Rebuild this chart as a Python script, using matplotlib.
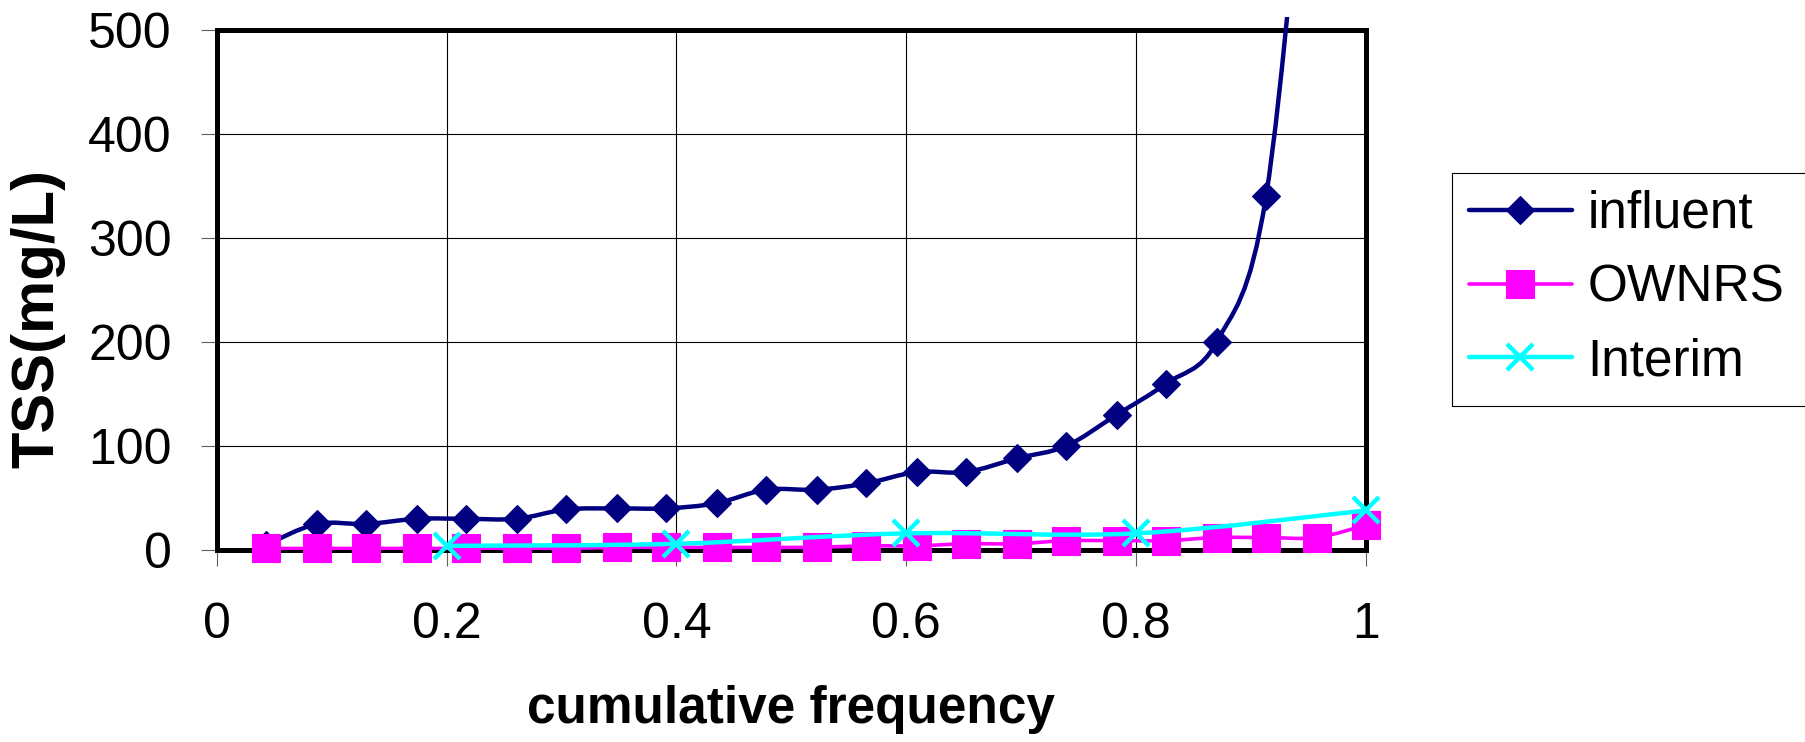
import numpy as np
import matplotlib
matplotlib.use('Agg')
import matplotlib.pyplot as plt
from matplotlib.path import Path
from matplotlib.patches import PathPatch, Rectangle
from matplotlib.lines import Line2D

plt.rcParams['font.family'] = ['Liberation Sans', 'DejaVu Sans']

# ---- data ----
cum_freq = [0.043, 0.087, 0.130, 0.174, 0.217, 0.261, 0.304, 0.348, 0.391, 0.435,
            0.478, 0.522, 0.565, 0.609, 0.652, 0.696, 0.739, 0.783, 0.826, 0.870,
            0.913, 0.957, 1.000]
influent = [5, 25, 25, 30, 30, 30, 39, 40, 40, 45,
            58, 58, 64, 75, 75, 88, 100, 130, 160, 200,
            340, 800, 1200]
ownrs = [1.5, 1.5, 1.5, 1.5, 1.5, 1.5, 1.5, 2.5, 2.5, 2.5,
         2.5, 2.6, 4, 4, 6, 6, 9, 9, 9, 12,
         12, 12, 24]
interim_freq = [0.2, 0.4, 0.6, 0.8, 1.0]
interim = [4, 6, 16, 16, 38]

x_ticks = [0, 0.2, 0.4, 0.6, 0.8, 1.0]
x_ticklabels = ['0', '0.2', '0.4', '0.6', '0.8', '1']
y_ticks = [0, 100, 200, 300, 400, 500]

W, H = 1805, 742
FS = 36


def smooth_path(xs, ys):
    # excel-style smoothed line: cubic bezier through every point
    pts = np.column_stack([xs, ys]).astype(float)
    n = len(pts)
    verts = [pts[0]]
    codes = [Path.MOVETO]
    for i in range(n - 1):
        p0 = pts[i - 1] if i > 0 else pts[i]
        p1 = pts[i]
        p2 = pts[i + 1]
        p3 = pts[i + 2] if i + 2 < n else pts[i + 1]
        verts += [p1 + (p2 - p0) / 6, p2 - (p3 - p1) / 6, p2]
        codes += [Path.CURVE4] * 3
    return Path(verts, codes)


fig = plt.figure(figsize=(W / 100, H / 100), dpi=100)
ax = fig.add_axes([216.7 / W, 192 / H, (1366 - 216.7) / W, 520 / H])

ax.set_xlim(0, 1)
ax.set_ylim(0, 500)
ax.set_xticks(x_ticks)
ax.set_xticklabels(x_ticklabels)
ax.set_yticks(y_ticks)
ax.grid(True, color='black', linewidth=0.8)
ax.set_axisbelow(True)
for s in ax.spines.values():
    s.set_linewidth(3.6)
    s.set_color('black')
ax.tick_params(axis='both', direction='out', length=11.5, width=0.8,
               color='#606060', labelsize=FS)
ax.tick_params(axis='x', pad=26)
ax.tick_params(axis='y', pad=21)

series = [
    (cum_freq, influent, '#000080', 3.2, 'D', 14.5, 'influent'),
    (cum_freq, ownrs, '#FF00FF', 2.6, 's', 20.5, 'OWNRS'),
    (interim_freq, interim, '#00FFFF', 3.2, 'x', 19, 'Interim'),
]

# influent line runs past the top of the plot area, up to the chart edge
clip_rect = Rectangle((216.7 / W, 0), (1366 - 216.7) / W, 1 - 17 / H,
                      transform=fig.transFigure)

handles = []
z = 3
for xs, ys, col, lw, mk, ms, name in series:
    patch = PathPatch(smooth_path(xs, ys), fill=False, edgecolor=col, lw=lw,
                      capstyle='round', joinstyle='round', zorder=z)
    ax.add_patch(patch)
    if name == 'influent':
        patch.set_clip_path(clip_rect)
    if mk == 'x':
        ax.plot(xs, ys, linestyle='none', marker=mk, ms=ms, mew=3.2,
                color=col, clip_on=False, zorder=z + 0.5)
        h = Line2D([], [], color=col, lw=lw, marker=mk, ms=ms, mew=3.2)
    else:
        ax.plot(xs, ys, linestyle='none', marker=mk, ms=ms, mew=0.8,
                color=col, mec=col, clip_on=False, zorder=z + 0.5)
        h = Line2D([], [], color=col, lw=lw, marker=mk, ms=ms, mew=0.8, mec=col)
    h.set_solid_capstyle('round')
    handles.append(h)
    z += 1

ax.set_xlabel('cumulative frequency', fontsize=37, fontweight='bold', va='baseline')
ax.xaxis.set_label_coords(0.5, (550 - 723) / 520)
ax.set_ylabel('TSS(mg/L)', fontsize=43, fontweight='bold', va='baseline')
ax.yaxis.set_label_coords((53 - 216.7) / 1149.3, (550 - 318) / 520)

# legend box runs off the right edge of the chart
leg = fig.legend(handles, [s[6] for s in series], loc='upper left',
                 bbox_to_anchor=(1452 / W, 1 - 173 / H), fontsize=37,
                 frameon=False, borderaxespad=0,
                 handlelength=2.0, handletextpad=0.3, labelspacing=0.48,
                 borderpad=0.33, numpoints=1)
fig.add_artist(Rectangle((1452 / W, 1 - 406 / H), 400 / W, 233 / H,
                         transform=fig.transFigure, fill=False,
                         edgecolor='black', lw=0.8, clip_on=False))

fig.savefig('out.png', dpi=100)
